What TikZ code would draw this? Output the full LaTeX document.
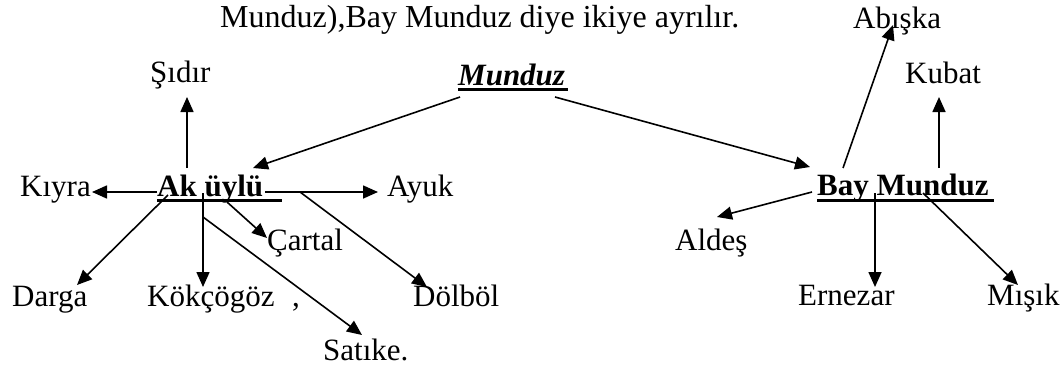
\documentclass[tikz,border=0pt]{standalone}
\usepackage{fontspec}
\setmainfont{Liberation Serif}
\usetikzlibrary{arrows.meta,calc}
\begin{document}
\begin{tikzpicture}[x=1pt,y=-1pt,
  every node/.style={inner sep=0pt,anchor=base west,font=\fontsize{31}{37}\selectfont},
  arr/.style={-{Triangle[length=15pt,width=13pt]},line width=1.6pt},
  ul/.style={line width=3pt}]
\useasboundingbox (0,0) rectangle (1064,367);
% text line above
\node[font=\fontsize{32}{38}\selectfont] (sentence) at (220,27) {Munduz),Bay Munduz diye ikiye ayrılır.};
% the three heads
\node[font=\fontsize{31}{37}\selectfont\bfseries\itshape] (munduz) at (458,85) {Munduz};
\node[font=\fontsize{31}{37}\selectfont\bfseries] (akuylu) at (157,196) {Ak üylü};
\node[font=\fontsize{31}{37}\selectfont\bfseries] (baymunduz) at (817,195) {Bay Munduz};
\draw[ul] ($(munduz.base west)+(0,4)$) -- ++(110,0);
\draw[ul] ($(akuylu.base west)+(0,4)$) -- ++(125,0);
\draw[ul] ($(baymunduz.base west)+(0,5)$) -- ++(177,0);
% Ak üylü side
\node (sidir) at (150,82) {Şıdır};
\node (kiyra) at (20,196) {Kıyra};
\node (ayuk) at (387,196) {Ayuk};
\node (cartal) at (267,250) {Çartal};
\node (darga) at (12,306) {Darga};
\node (kokcogoz) at (147,306) {Kökçögöz};
\node (comma) at (292,306) {,};
\node (dolbol) at (413,306) {Dölböl};
\node (satike) at (323,360) {Satıke.};
% Bay Munduz side
\node (abiska) at (853,28) {Abışka};
\node (kubat) at (905,83) {Kubat};
\node (aldes) at (675,250) {Aldeş};
\node (ernezar) at (798,305) {Ernezar};
\node (misik) at (987,305) {Mışık};
% arrows
\draw[arr] ($(munduz.base west)+(2,12)$) -- ($(akuylu.base west)+(96,-28)$);
\draw[arr] ($(munduz.base west)+(97,12)$) -- ($(baymunduz.base west)+(-7,-28)$);
\draw[arr] ($(akuylu.base west)+(30,-28)$) -- ($(sidir.base west)+(37,15)$);
\draw[arr] ($(akuylu.base west)+(0,-4)$) -- ($(kiyra.base west)+(72,-4)$);
\draw[arr] ($(akuylu.base west)+(108,-4)$) -- ($(ayuk.base west)+(-9,-4)$);
\draw[arr] ($(akuylu.base west)+(11,-1)$) -- ($(darga.base west)+(65,-21)$);
\draw[arr] ($(akuylu.base west)+(46,-3)$) -- ($(kokcogoz.base west)+(56,-19)$);
\draw[arr] ($(akuylu.base west)+(70,6)$) -- ($(cartal.base west)+(0,-12)$);
\draw[arr] ($(akuylu.base west)+(143,-4)$) -- ($(dolbol.base west)+(14,-19)$);
\draw[arr] ($(akuylu.base west)+(46,21)$) -- ($(satike.base west)+(39,-25)$);
\draw[arr] ($(baymunduz.base west)+(26,-27)$) -- ($(abiska.base west)+(40,-3)$);
\draw[arr] ($(baymunduz.base west)+(122,-27)$) -- ($(kubat.base west)+(34,14)$);
\draw[arr] ($(baymunduz.base west)+(-5,-3)$) -- ($(aldes.base west)+(42,-33)$);
\draw[arr] ($(baymunduz.base west)+(58,-2)$) -- ($(ernezar.base west)+(77,-18)$);
\draw[arr] ($(baymunduz.base west)+(106,-2)$) -- ($(misik.base west)+(31,-20)$);
\end{tikzpicture}
\end{document}
